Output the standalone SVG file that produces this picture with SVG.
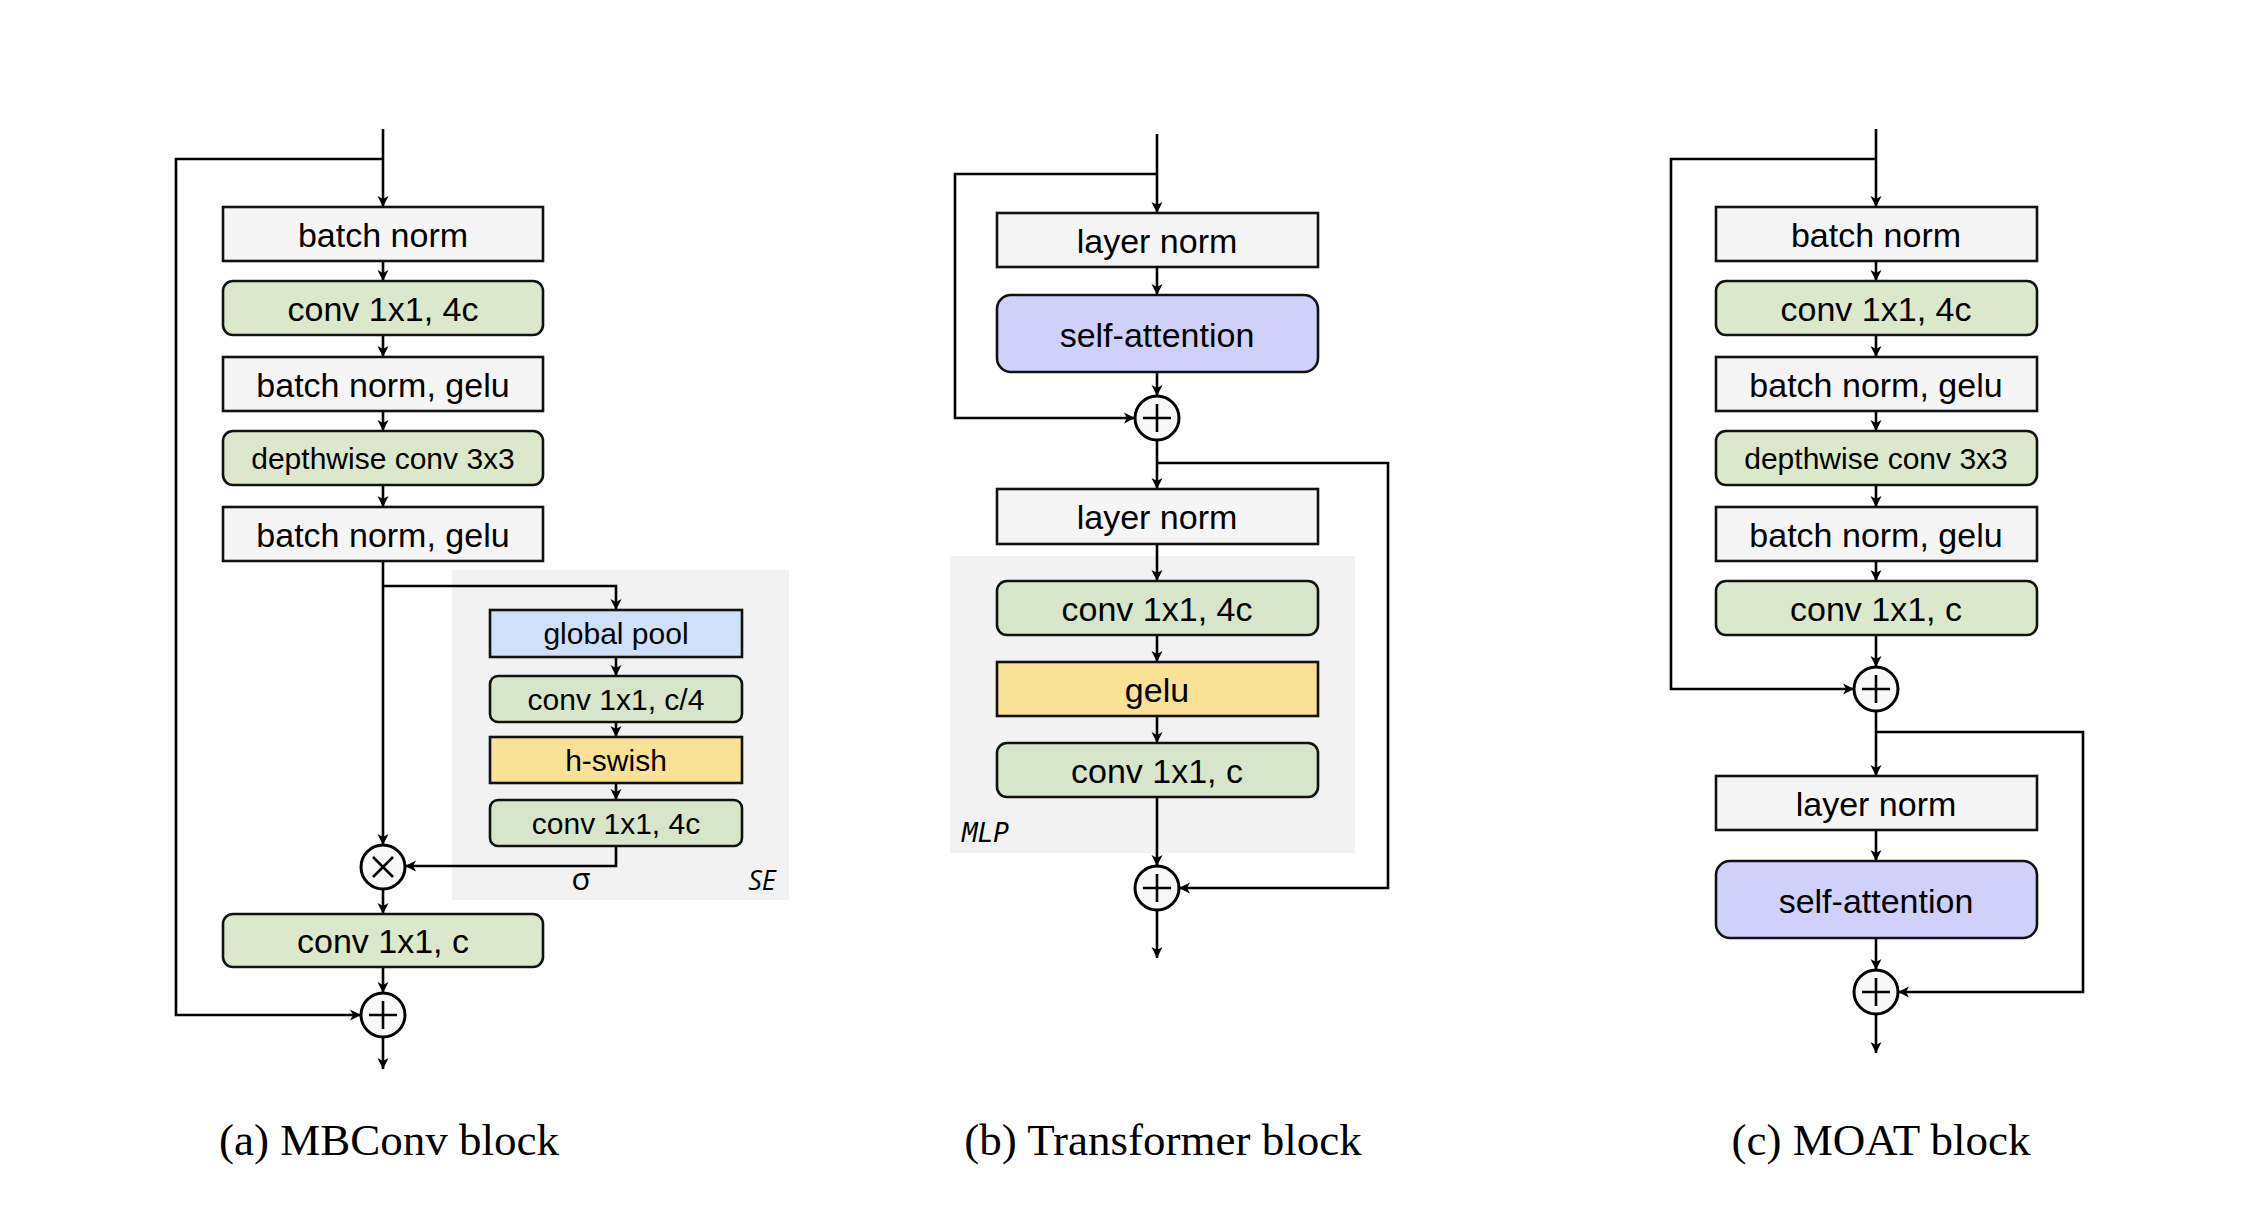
<svg xmlns="http://www.w3.org/2000/svg" width="2241" height="1230" viewBox="0 0 2241 1230">
<defs>
<marker id="arr" markerUnits="userSpaceOnUse" markerWidth="12" markerHeight="12" refX="11" refY="6" orient="auto">
<path d="M0,0.5 L11,6 L0,11.5 L3,6 z" fill="#000"/>
</marker>
<style>
.box{stroke:#111;stroke-width:2.6}
.gray{fill:#f5f5f5}
.green{fill:#dce8cb}
.green2{fill:#d7e5cb}
.blue{fill:#cfd1fb}
.pool{fill:#d0e0f8}
.yellow{fill:#f9e196}
.bg{fill:#f2f2f2}
.t{font-family:"Liberation Sans",Arial,sans-serif;font-size:34px;text-anchor:middle;fill:#000}
.td{font-family:"Liberation Sans",Arial,sans-serif;font-size:30px;text-anchor:middle;fill:#000}
.ts{font-family:"Liberation Sans",Arial,sans-serif;font-size:30px;text-anchor:middle;fill:#000}
.cap{font-family:"Liberation Serif","Times New Roman",serif;font-size:45px;text-anchor:middle;fill:#000}
.a{fill:none;stroke:#000;stroke-width:2.6;marker-end:url(#arr)}
.op{fill:#f8f8f8;stroke:#000;stroke-width:3}
.sym{stroke:#000;stroke-width:2.6}
</style>
</defs>
<rect width="2241" height="1230" fill="#fff"/>

<!-- backgrounds -->
<g id="se-group">
<rect class="bg" x="452" y="570" width="337" height="330"/>
<text x="581" y="890" font-family="'Open Sans','DejaVu Sans',sans-serif" font-size="31" text-anchor="middle">σ</text>
<text x="762" y="890" font-family="'Open Sans','DejaVu Sans',sans-serif" font-size="27" font-style="italic" text-anchor="middle">SE</text>
</g>
<g id="mlp-group">
<rect class="bg" x="950" y="556" width="405" height="297"/>
<text x="962" y="842" font-family="'DejaVu Sans Mono',monospace" font-size="26" font-style="italic">MLP</text>
</g>

<!-- connectors -->
<g id="connectors">
<!-- MBConv -->
<path class="a" d="M383,129 V207"/>
<path class="a" d="M383,159 H176 V1015 H361"/>
<path class="a" d="M383,261 V281"/>
<path class="a" d="M383,335 V357"/>
<path class="a" d="M383,411 V431"/>
<path class="a" d="M383,485 V507"/>
<path class="a" d="M383,561 V845"/>
<path class="a" d="M383,586 H616 V610"/>
<path class="a" d="M616,657 V676"/>
<path class="a" d="M616,722 V737"/>
<path class="a" d="M616,783 V800"/>
<path class="a" d="M616,846 V866 H405"/>
<path class="a" d="M383,889 V914"/>
<path class="a" d="M383,967 V993"/>
<path class="a" d="M383,1037 V1069"/>
<!-- Transformer -->
<path class="a" d="M1157,134 V213"/>
<path class="a" d="M1157,174 H955 V418 H1135"/>
<path class="a" d="M1157,267 V295"/>
<path class="a" d="M1157,372 V396"/>
<path class="a" d="M1157,440 V489"/>
<path class="a" d="M1157,463 H1388 V888 H1179"/>
<path class="a" d="M1157,544 V581"/>
<path class="a" d="M1157,635 V662"/>
<path class="a" d="M1157,716 V743"/>
<path class="a" d="M1157,797 V866"/>
<path class="a" d="M1157,910 V958"/>
<!-- MOAT -->
<path class="a" d="M1876,129 V207"/>
<path class="a" d="M1876,159 H1671 V689 H1854"/>
<path class="a" d="M1876,261 V281"/>
<path class="a" d="M1876,335 V357"/>
<path class="a" d="M1876,411 V431"/>
<path class="a" d="M1876,485 V507"/>
<path class="a" d="M1876,561 V581"/>
<path class="a" d="M1876,635 V667"/>
<path class="a" d="M1876,711 V776"/>
<path class="a" d="M1876,732 H2083 V992 H1898"/>
<path class="a" d="M1876,830 V861"/>
<path class="a" d="M1876,938 V970"/>
<path class="a" d="M1876,1014 V1053"/>
</g>

<!-- MBConv nodes -->
<g id="mb-bn1"><rect class="box gray" x="223" y="207" width="320" height="54"/><text class="t" x="383" y="247">batch norm</text></g>
<g id="mb-conv1"><rect class="box green" x="223" y="281" width="320" height="54" rx="10"/><text class="t" x="383" y="321">conv 1x1, 4c</text></g>
<g id="mb-bn2"><rect class="box gray" x="223" y="357" width="320" height="54"/><text class="t" x="383" y="397">batch norm, gelu</text></g>
<g id="mb-dw"><rect class="box green" x="223" y="431" width="320" height="54" rx="10"/><text class="td" x="383" y="469">depthwise conv 3x3</text></g>
<g id="mb-bn3"><rect class="box gray" x="223" y="507" width="320" height="54"/><text class="t" x="383" y="547">batch norm, gelu</text></g>
<g id="se-pool"><rect class="box pool" x="490" y="610" width="252" height="47"/><text class="ts" x="616" y="644">global pool</text></g>
<g id="se-conv1"><rect class="box green2" x="490" y="676" width="252" height="46" rx="8"/><text class="ts" x="616" y="710">conv 1x1, c/4</text></g>
<g id="se-hswish"><rect class="box yellow" x="490" y="737" width="252" height="46"/><text class="ts" x="616" y="771">h-swish</text></g>
<g id="se-conv2"><rect class="box green2" x="490" y="800" width="252" height="46" rx="8"/><text class="ts" x="616" y="834">conv 1x1, 4c</text></g>
<g id="mb-mul"><circle class="op" cx="383" cy="867" r="22"/><path class="sym" d="M373,857 L393,877 M393,857 L373,877"/></g>
<g id="mb-conv2"><rect class="box green" x="223" y="914" width="320" height="53" rx="10"/><text class="t" x="383" y="953">conv 1x1, c</text></g>
<g id="mb-add"><circle class="op" cx="383" cy="1015" r="22"/><path class="sym" d="M369,1015 H397 M383,1001 V1029"/></g>

<!-- Transformer nodes -->
<g id="tf-ln1"><rect class="box gray" x="997" y="213" width="321" height="54"/><text class="t" x="1157" y="253">layer norm</text></g>
<g id="tf-sa"><rect class="box blue" x="997" y="295" width="321" height="77" rx="14"/><text class="t" x="1157" y="347">self-attention</text></g>
<g id="tf-add1"><circle class="op" cx="1157" cy="418" r="22"/><path class="sym" d="M1143,418 H1171 M1157,404 V432"/></g>
<g id="tf-ln2"><rect class="box gray" x="997" y="489" width="321" height="55"/><text class="t" x="1157" y="529">layer norm</text></g>
<g id="tf-conv1"><rect class="box green2" x="997" y="581" width="321" height="54" rx="10"/><text class="t" x="1157" y="621">conv 1x1, 4c</text></g>
<g id="tf-gelu"><rect class="box yellow" x="997" y="662" width="321" height="54"/><text class="t" x="1157" y="702">gelu</text></g>
<g id="tf-conv2"><rect class="box green2" x="997" y="743" width="321" height="54" rx="10"/><text class="t" x="1157" y="783">conv 1x1, c</text></g>
<g id="tf-add2"><circle class="op" cx="1157" cy="888" r="22"/><path class="sym" d="M1143,888 H1171 M1157,874 V902"/></g>

<!-- MOAT nodes -->
<g id="mo-bn1"><rect class="box gray" x="1716" y="207" width="321" height="54"/><text class="t" x="1876" y="247">batch norm</text></g>
<g id="mo-conv1"><rect class="box green" x="1716" y="281" width="321" height="54" rx="10"/><text class="t" x="1876" y="321">conv 1x1, 4c</text></g>
<g id="mo-bn2"><rect class="box gray" x="1716" y="357" width="321" height="54"/><text class="t" x="1876" y="397">batch norm, gelu</text></g>
<g id="mo-dw"><rect class="box green" x="1716" y="431" width="321" height="54" rx="10"/><text class="td" x="1876" y="469">depthwise conv 3x3</text></g>
<g id="mo-bn3"><rect class="box gray" x="1716" y="507" width="321" height="54"/><text class="t" x="1876" y="547">batch norm, gelu</text></g>
<g id="mo-conv2"><rect class="box green" x="1716" y="581" width="321" height="54" rx="10"/><text class="t" x="1876" y="621">conv 1x1, c</text></g>
<g id="mo-add1"><circle class="op" cx="1876" cy="689" r="22"/><path class="sym" d="M1862,689 H1890 M1876,675 V703"/></g>
<g id="mo-ln"><rect class="box gray" x="1716" y="776" width="321" height="54"/><text class="t" x="1876" y="816">layer norm</text></g>
<g id="mo-sa"><rect class="box blue" x="1716" y="861" width="321" height="77" rx="14"/><text class="t" x="1876" y="913">self-attention</text></g>
<g id="mo-add2"><circle class="op" cx="1876" cy="992" r="22"/><path class="sym" d="M1862,992 H1890 M1876,978 V1006"/></g>

<!-- captions -->
<g id="captions">
<text class="cap" x="389" y="1155">(a) MBConv block</text>
<text class="cap" x="1163" y="1155">(b) Transformer block</text>
<text class="cap" x="1881" y="1155">(c) MOAT block</text>
</g>
</svg>
